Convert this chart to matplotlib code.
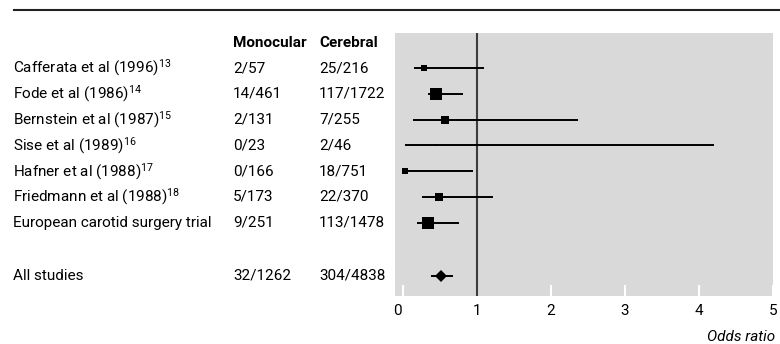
import matplotlib.pyplot as plt
import matplotlib.transforms as mtransforms
from matplotlib.lines import Line2D

plt.rcParams['font.family'] = ['Roboto', 'DejaVu Sans']
plt.rcParams['mathtext.fontset'] = 'custom'
plt.rcParams['mathtext.rm'] = 'Roboto'
plt.rcParams['mathtext.default'] = 'regular'

studies = ["Cafferata et al (1996)", "Fode et al (1986)", "Bernstein et al (1987)",
           "Sise et al (1989)", "Hafner et al (1988)", "Friedmann et al (1988)",
           "European carotid surgery trial"]
refs = ["13", "14", "15", "16", "17", "18", ""]
monocular = ["2/57", "14/461", "2/131", "0/23", "0/166", "5/173", "9/251"]
cerebral = ["25/216", "117/1722", "7/255", "2/46", "18/751", "22/370", "113/1478"]
odds = [0.28, 0.44, 0.56, 0.44, 0.02, 0.48, 0.34]
lower = [0.15, 0.33, 0.14, 0.02, 0.02, 0.25, 0.19]
upper = [1.09, 0.81, 2.37, 4.20, 0.95, 1.22, 0.76]
box_px = [6.5, 12.5, 7.5, 2.5, 6.0, 8.0, 12.0]   # square side in pixels

total_label = "All studies"
total_mono = "32/1262"
total_cere = "304/4838"
total_or, total_lo, total_hi = 0.51, 0.38, 0.67

fig = plt.figure(figsize=(7.8, 3.44), dpi=100)
ax = fig.add_axes([395 / 780, 1 - 296 / 344, 378 / 780, 263 / 344])
ax.set_facecolor('#d9d9d9')
for s in ax.spines.values():
    s.set_visible(False)

rows = list(range(len(studies)))
total_row = 8.05
ax.set_ylim(8.84, -1.36)
ax.set_xlim(-0.11, 5.0)

ax.axvline(1, color='#3c3c3c', lw=1.5, zorder=3)

pt = 0.72  # points per pixel
for y, o, lo, hi, b in zip(rows, odds, lower, upper, box_px):
    ax.plot([lo, hi], [y, y], color='black', lw=1.4, solid_capstyle='butt', zorder=4)
    ax.plot(o, y, marker='s', color='black', ms=b * pt, mew=0, zorder=5)

ax.plot([total_lo, total_hi], [total_row, total_row], color='black', lw=1.4,
        solid_capstyle='butt', zorder=4)
ax.plot(total_or, total_row, marker='D', color='black', ms=6.5, mew=0, zorder=5)

fs = 11
ax.set_yticks([])
ax.set_xticks([0, 1, 2, 3, 4, 5])
ax.tick_params(axis='x', direction='in', length=8, width=1.5, color='white',
               labelsize=fs, pad=6)
# the "0" label sits flush with the panel edge
zero = ax.get_xticklabels()[0]
zero.set_transform(zero.get_transform() +
                   mtransforms.ScaledTranslation(-6 / 100, 0, fig.dpi_scale_trans))

# table columns on the left, sharing the panel's row positions
tr = mtransforms.blended_transform_factory(fig.transFigure, ax.transData)
x_name, x_mono, x_cere = 13 / 780, 233 / 780, 319 / 780
ax.text(x_mono, -0.97, "Monocular", transform=tr, fontsize=fs, fontweight='bold',
        va='center', ha='left')
ax.text(x_cere, -0.97, "Cerebral", transform=tr, fontsize=fs, fontweight='bold',
        va='center', ha='left')
for y, name, r, m, c in zip(rows, studies, refs, monocular, cerebral):
    label = name + (r"$^{%s}$" % r if r else "")
    ax.text(x_name, y, label, transform=tr, fontsize=fs, va='center', ha='left')
    ax.text(x_mono, y, m, transform=tr, fontsize=fs, va='center', ha='left')
    ax.text(x_cere, y, c, transform=tr, fontsize=fs, va='center', ha='left')
ax.text(x_name, total_row, total_label, transform=tr, fontsize=fs, va='center', ha='left')
ax.text(x_mono, total_row, total_mono, transform=tr, fontsize=fs, va='center', ha='left')
ax.text(x_cere, total_row, total_cere, transform=tr, fontsize=fs, va='center', ha='left')

fig.text(775 / 780, 1 - 337 / 344, "Odds ratio", fontsize=fs, style='italic',
         ha='right', va='center')

fig.add_artist(Line2D([14 / 780, 1.0], [1 - 10 / 344, 1 - 10 / 344],
                      color='#222222', lw=1.5, transform=fig.transFigure))

fig.savefig('out.png', dpi=100)
